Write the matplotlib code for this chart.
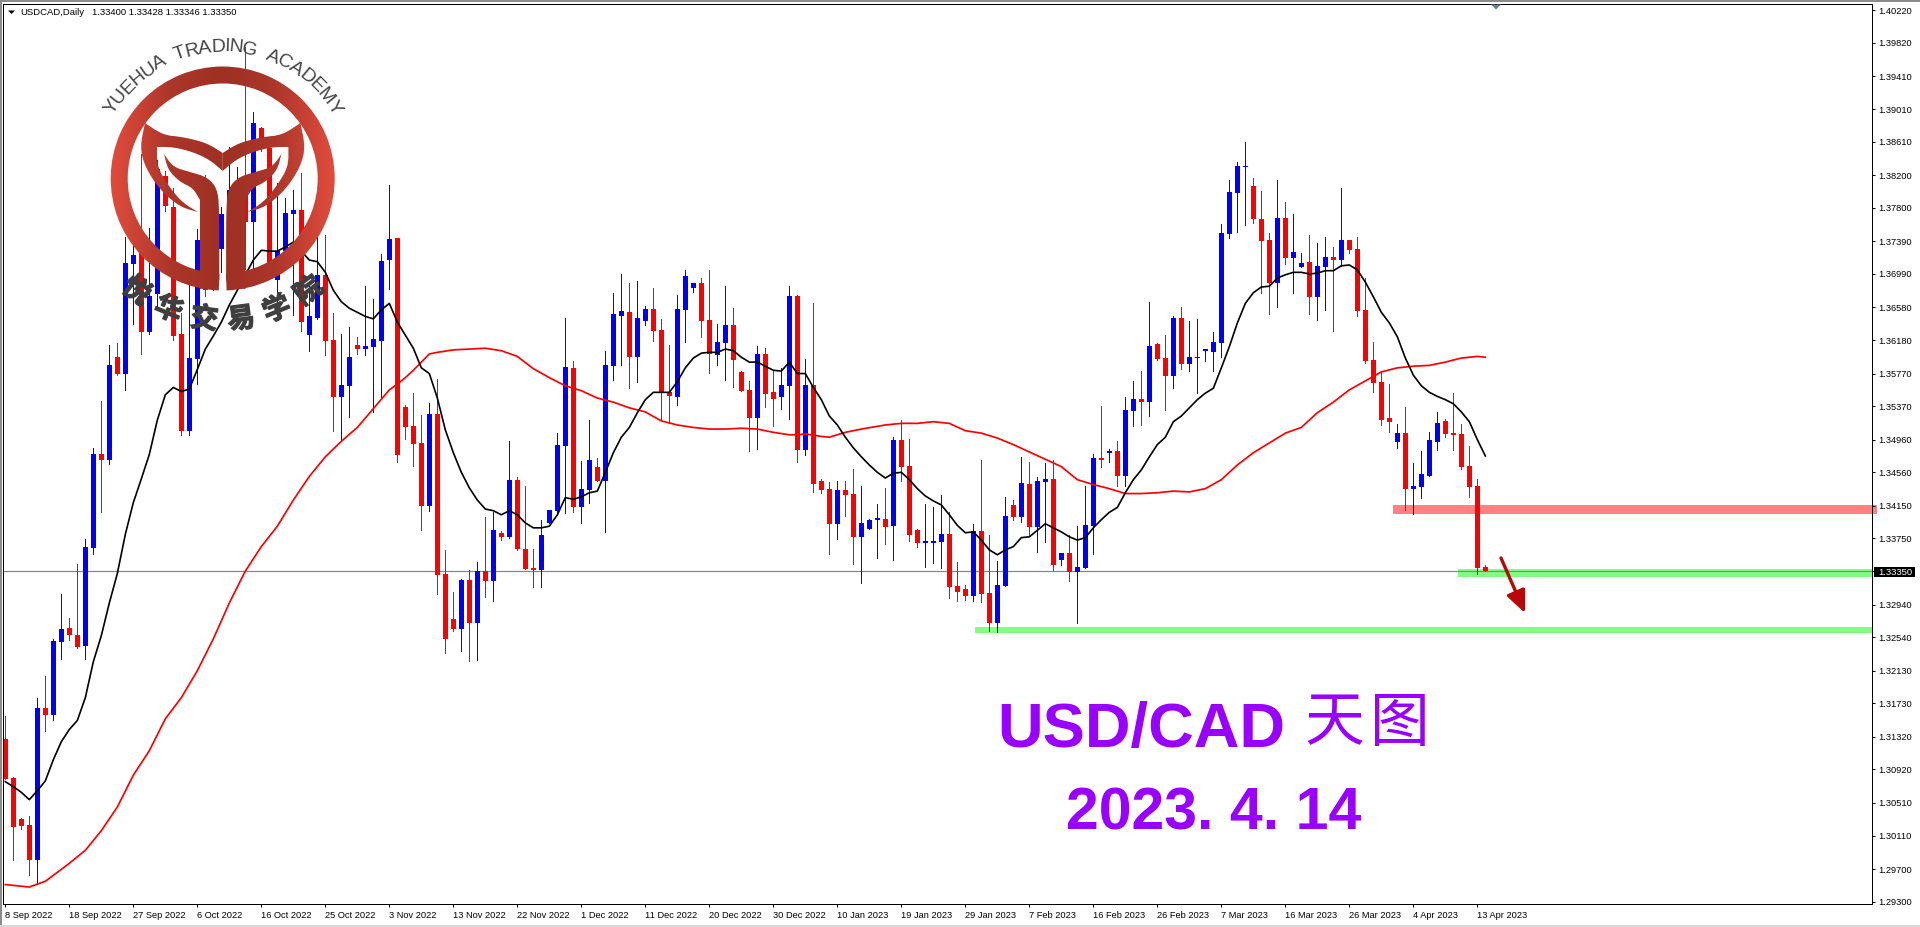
import numpy as np
import matplotlib
matplotlib.use('Agg')
import matplotlib.pyplot as plt
import matplotlib.patheffects as pe
from matplotlib.patches import Polygon, Rectangle, Wedge
from matplotlib.textpath import TextPath
from matplotlib.font_manager import FontProperties

open_ = [1.3129,1.3082,1.3031,1.3024,1.2981,1.3167,1.3159,1.3248,1.3265,1.3257,
1.3243,1.3363,1.3478,1.3471,1.3597,1.3577,1.3711,1.3740,1.3628,1.3675,
1.3819,1.3781,1.3625,1.3507,1.3595,1.3777,1.3692,1.3730,1.3753,1.3759,
1.3799,1.3763,1.3878,1.3853,1.3692,1.3727,1.3772,1.3777,1.3624,1.3645,
1.3698,1.3618,1.3548,1.3562,1.3612,1.3607,1.3610,1.3617,1.3716,1.3743,
1.3536,1.3513,1.3492,1.3415,1.3527,1.3331,1.3276,1.3264,1.3324,1.3272,
1.3335,1.3323,1.3382,1.3377,1.3447,1.3362,1.3339,1.3336,1.3394,1.3409,
1.3488,1.3584,1.3414,1.3434,1.3463,1.3445,1.3586,1.3647,1.3652,1.3597,
1.3641,1.3656,1.3630,1.3555,1.3548,1.3655,1.3682,1.3688,1.3643,1.3600,
1.3614,1.3636,1.3579,1.3557,1.3523,1.3601,1.3555,1.3548,1.3562,1.3672,
1.3483,1.3563,1.3445,1.3436,1.3393,1.3434,1.3429,1.3377,1.3387,1.3398,
1.3399,1.3390,1.3496,1.3464,1.3385,1.3370,1.3370,1.3371,1.3380,1.3317,
1.3313,1.3305,1.3384,1.3308,1.3272,1.3317,1.3416,1.3401,1.3442,1.3389,
1.3444,1.3448,1.3349,1.3357,1.3334,1.3339,1.3390,1.3474,1.3480,1.3482,
1.3452,1.3531,1.3546,1.3542,1.3613,1.3596,1.3574,1.3645,1.3589,1.3596,
1.3605,1.3604,1.3614,1.3748,1.3798,1.3830,1.3807,1.3766,1.3740,1.3688,
1.3768,1.3719,1.3707,1.3714,1.3671,1.3707,1.3720,1.3716,1.3740,1.3730,
1.3655,1.3594,1.3567,1.3523,1.3493,1.3504,1.3436,1.3438,1.3452,1.3493,
1.3519,1.3504,1.3503,1.3464,1.3439,1.33400]

high = [1.3158,1.3083,1.3032,1.3035,1.3180,1.3206,1.3252,1.3307,1.3277,1.3344,
1.3374,1.3486,1.3543,1.3612,1.3614,1.3744,1.3774,1.3846,1.3755,1.3839,
1.3825,1.3804,1.3651,1.3685,1.3754,1.3820,1.3790,1.3781,1.3854,1.3830,
1.3977,1.3897,1.3879,1.3859,1.3810,1.3792,1.3802,1.3823,1.3687,1.3744,
1.3747,1.3651,1.3625,1.3634,1.3622,1.3684,1.3668,1.3723,1.3808,1.3743,
1.3539,1.3553,1.3526,1.3541,1.3570,1.3361,1.3309,1.3325,1.3336,1.3346,
1.3401,1.3407,1.3384,1.3494,1.3450,1.3439,1.3362,1.3398,1.3410,1.3504,
1.3645,1.3592,1.3470,1.3520,1.3474,1.3605,1.3676,1.3699,1.3688,1.3690,
1.3660,1.3682,1.3644,1.3612,1.3673,1.3704,1.3688,1.3694,1.3704,1.3638,
1.3684,1.3657,1.3580,1.3568,1.3611,1.3608,1.3581,1.3584,1.3684,1.3673,
1.3595,1.3663,1.3448,1.3444,1.3445,1.3445,1.3460,1.3439,1.3399,1.3417,
1.3437,1.3499,1.3520,1.3497,1.3387,1.3417,1.3414,1.3428,1.3407,1.3346,
1.3318,1.3393,1.3471,1.3379,1.3347,1.3426,1.3422,1.3475,1.3469,1.3450,
1.3467,1.3471,1.3357,1.3379,1.3390,1.3439,1.3478,1.3537,1.3484,1.3494,
1.3548,1.3568,1.3580,1.3665,1.3614,1.3624,1.3647,1.3658,1.3641,1.3644,
1.3606,1.3628,1.3760,1.3814,1.3836,1.3861,1.3817,1.3801,1.3749,1.3814,
1.3787,1.3772,1.3725,1.3747,1.3737,1.3744,1.3732,1.3804,1.3740,1.3744,
1.3694,1.3616,1.3580,1.3564,1.3515,1.3536,1.3467,1.3482,1.3505,1.3530,
1.3521,1.3553,1.3515,1.3488,1.3448,1.33428]

low = [1.3080,1.2981,1.3019,1.2963,1.2952,1.3139,1.3153,1.3227,1.3251,1.3241,
1.3227,1.3356,1.3407,1.3466,1.3575,1.3557,1.3638,1.3601,1.3625,1.3656,
1.3776,1.3618,1.3502,1.3502,1.3564,1.3672,1.3679,1.3701,1.3740,1.3740,
1.3705,1.3701,1.3850,1.3710,1.3665,1.3716,1.3649,1.3629,1.3605,1.3644,
1.3600,1.3507,1.3494,1.3524,1.3601,1.3600,1.3530,1.3548,1.3681,1.3469,
1.3497,1.3464,1.3385,1.3409,1.3307,1.3235,1.3262,1.3237,1.3225,1.3226,
1.3303,1.3298,1.3373,1.3376,1.3361,1.3338,1.3315,1.3315,1.3394,1.3404,
1.3406,1.3407,1.3394,1.3418,1.3445,1.3383,1.3569,1.3587,1.3559,1.3567,
1.3636,1.3617,1.3520,1.3516,1.3539,1.3616,1.3677,1.3622,1.3578,1.3587,
1.3569,1.3561,1.3556,1.3482,1.3485,1.3536,1.3513,1.3534,1.3521,1.3469,
1.3477,1.3432,1.3431,1.3356,1.3374,1.3403,1.3344,1.3320,1.3387,1.3351,
1.3368,1.3349,1.3445,1.3372,1.3365,1.3340,1.3345,1.3339,1.3302,1.3298,
1.3300,1.3298,1.3297,1.3262,1.3261,1.3317,1.3398,1.3395,1.3378,1.3358,
1.3371,1.3336,1.3342,1.3323,1.3272,1.3339,1.3356,1.3463,1.3469,1.3439,
1.3439,1.3513,1.3514,1.3525,1.3594,1.3532,1.3559,1.3583,1.3580,1.3553,
1.3592,1.3580,1.3597,1.3743,1.3750,1.3759,1.3761,1.3676,1.3650,1.3658,
1.3711,1.3676,1.3707,1.3650,1.3643,1.3655,1.3629,1.3709,1.3725,1.3648,
1.3590,1.3555,1.3514,1.3505,1.3486,1.3410,1.3405,1.3425,1.3451,1.3483,
1.3499,1.3483,1.3460,1.3426,1.3332,1.33346]

close = [1.3080,1.3021,1.3023,1.2981,1.3167,1.3159,1.3249,1.3264,1.3257,1.3242,
1.3365,1.3478,1.3471,1.3587,1.3577,1.3712,1.3722,1.3628,1.3672,1.3828,
1.3782,1.3623,1.3507,1.3596,1.3740,1.3679,1.3740,1.3773,1.3802,1.3796,
1.3763,1.3884,1.3853,1.3712,1.3727,1.3774,1.3777,1.3640,1.3647,1.3698,
1.3617,1.3548,1.3563,1.3597,1.3607,1.3611,1.3619,1.3715,1.3742,1.3477,
1.3512,1.3491,1.3415,1.3527,1.3330,1.3252,1.3264,1.3324,1.3272,1.3335,
1.3323,1.3385,1.3377,1.3447,1.3362,1.3338,1.3336,1.3379,1.3410,1.3490,
1.3585,1.3414,1.3436,1.3471,1.3445,1.3587,1.3650,1.3654,1.3597,1.3645,
1.3656,1.3629,1.3555,1.3550,1.3656,1.3696,1.3688,1.3641,1.3601,1.3616,
1.3636,1.3594,1.3556,1.3523,1.3601,1.3552,1.3546,1.3563,1.3672,1.3483,
1.3563,1.3442,1.3434,1.3393,1.3434,1.3428,1.3377,1.3394,1.3398,1.3399,
1.3389,1.3496,1.3463,1.3379,1.3370,1.3371,1.3372,1.3380,1.3315,1.3309,
1.3305,1.3384,1.3307,1.3272,1.3318,1.3403,1.3401,1.3443,1.3389,1.3445,
1.3448,1.3342,1.3357,1.3334,1.3340,1.3391,1.3474,1.3471,1.3482,1.3451,
1.3532,1.3546,1.3542,1.3611,1.3595,1.3574,1.3645,1.3589,1.3597,1.3597,
1.3606,1.3616,1.3749,1.3799,1.3831,1.3831,1.3766,1.3739,1.3688,1.3768,
1.3719,1.3726,1.3712,1.3671,1.3709,1.3720,1.3716,1.3740,1.3728,1.3654,
1.3592,1.3566,1.3520,1.3518,1.3504,1.3436,1.3439,1.3454,1.3496,1.3516,
1.3503,1.3502,1.3463,1.3438,1.3339,1.33350]

# black moving average, one value per candle
ma_black = [1.3077,1.3071,1.3064,1.3055,1.3066,1.3078,1.3104,1.3126,1.3141,1.3152,
1.3180,1.3224,1.3256,1.3296,1.3332,1.3380,1.3419,1.3448,1.3478,1.3520,
1.3551,1.3560,1.3555,1.3558,1.3582,1.3607,1.3623,1.3640,1.3661,1.3679,
1.3698,1.3716,1.3728,1.3727,1.3727,1.3732,1.3738,1.3727,1.3716,1.3714,
1.3701,1.3679,1.3665,1.3657,1.3652,1.3647,1.3644,1.3655,1.3663,1.3640,
1.3624,1.3608,1.3584,1.3577,1.3547,1.3508,1.3480,1.3456,1.3437,1.3422,
1.3411,1.3409,1.3404,1.3409,1.3404,1.3394,1.3388,1.3388,1.3390,1.3404,
1.3425,1.3423,1.3426,1.3431,1.3433,1.3456,1.3480,1.3499,1.3511,1.3529,
1.3545,1.3554,1.3554,1.3554,1.3567,1.3584,1.3596,1.3602,1.3603,1.3603,
1.3607,1.3605,1.3597,1.3591,1.3591,1.3586,1.3581,1.3580,1.3591,1.3577,
1.3577,1.3560,1.3545,1.3525,1.3514,1.3499,1.3486,1.3475,1.3465,1.3456,
1.3449,1.3455,1.3456,1.3447,1.3436,1.3427,1.3421,1.3416,1.3404,1.3391,
1.3382,1.3383,1.3373,1.3361,1.3355,1.3361,1.3365,1.3376,1.3377,1.3385,
1.3393,1.3388,1.3383,1.3377,1.3373,1.3376,1.3388,1.3398,1.3407,1.3413,
1.3431,1.3447,1.3459,1.3475,1.3490,1.3499,1.3518,1.3525,1.3535,1.3545,
1.3553,1.3559,1.3584,1.3610,1.3639,1.3663,1.3676,1.3683,1.3684,1.3694,
1.3698,1.3701,1.3701,1.3699,1.3700,1.3703,1.3703,1.3709,1.3710,1.3704,
1.3689,1.3671,1.3652,1.3639,1.3622,1.3596,1.3575,1.3562,1.3554,1.3549,
1.3545,1.3540,1.3530,1.3518,1.3496,1.3476]

# red moving average, read at these candles
ma_red_idx = [0,3,5,8,10,12,14,16,18,20,22,24,26,28,30,32,34,36,38,40,42,44,46,48,49,
50,51,52,53,54,56,58,60,62,64,66,68,70,72,74,76,78,80,82,84,86,88,90,92,94,96,98,99,
100,102,103,105,107,110,112,114,116,118,120,122,124,126,128,130,132,134,136,138,140,142,144,146,148,149,
150,152,154,156,158,160,162,164,166,168,170,172,174,176,178,180,182,184,185]
ma_red = [1.2951,1.2948,1.2955,1.2977,1.2993,1.3017,1.3046,1.3085,1.3115,1.3154,1.3180,1.3213,1.3252,1.3296,1.3335,1.3365,1.3390,1.3422,1.3451,1.3475,1.3494,1.3511,1.3534,1.3557,1.3564,
1.3572,1.3581,1.3591,1.3601,1.3603,1.3606,1.3607,1.3608,1.3605,1.3598,1.3583,1.3572,1.3562,1.3556,1.3547,1.3542,1.3535,1.3530,1.3519,1.3514,1.3511,1.3509,1.3509,1.3510,1.3509,1.3505,1.3502,1.3502,
1.3503,1.3500,1.3499,1.3505,1.3509,1.3514,1.3516,1.3516,1.3518,1.3516,1.3507,1.3504,1.3498,1.3490,1.3481,1.3472,1.3463,1.3447,1.3441,1.3436,1.3430,1.3430,1.3431,1.3433,1.3432,1.3434,
1.3436,1.3447,1.3465,1.3480,1.3492,1.3504,1.3511,1.3529,1.3542,1.3557,1.3568,1.3579,1.3584,1.3586,1.3587,1.3591,1.3596,1.3598,1.3597]

price_ticks = [1.40220,1.39820,1.39410,1.39010,1.38610,1.38200,1.37800,1.37390,1.36990,1.36580,
1.36180,1.35770,1.35370,1.34960,1.34560,1.34150,1.33750,1.32940,1.32540,1.32130,
1.31730,1.31320,1.30920,1.30510,1.30110,1.29700,1.29300]
date_labels = ['8 Sep 2022','18 Sep 2022','27 Sep 2022','6 Oct 2022','16 Oct 2022','25 Oct 2022',
'3 Nov 2022','13 Nov 2022','22 Nov 2022','1 Dec 2022','11 Dec 2022','20 Dec 2022','30 Dec 2022',
'10 Jan 2023','19 Jan 2023','29 Jan 2023','7 Feb 2023','16 Feb 2023','26 Feb 2023','7 Mar 2023',
'16 Mar 2023','26 Mar 2023','4 Apr 2023','13 Apr 2023']
last_price = 1.33350

plt.rcParams['font.family'] = ['Liberation Sans', 'Noto Sans CJK SC', 'DejaVu Sans']
PX = 0.72  # one pixel in points at dpi 100

fig = plt.figure(figsize=(19.2, 9.27), dpi=100, facecolor='white')
ax = fig.add_axes([3/1920, 1-904/927, 1869/1920, 900/927])
ax.set_xlim(-0.291, 233.33)
ax.set_ylim(1.29272, 1.40297)

# zones
ax.fill_between([173.5, 234], 1.3405, 1.3416, color='#FF8080', lw=0, zorder=1, clip_on=False)
ax.fill_between([181.6, 233.33], 1.3328, 1.3338, color='#80FF80', lw=0, zorder=1)
ax.fill_between([121.2, 233.33], 1.3259, 1.3267, color='#80FF80', lw=0, zorder=1)
ax.axhline(last_price, color='#778899', lw=PX*1.2, zorder=1.5)

# candles
o = np.array(open_)
h = np.array(high)
l = np.array(low)
c = np.array(close)
x = np.arange(len(o))
cols = np.where(c >= o, '#0000FF', '#FF0000')
ax.vlines(x, l, h, colors=cols, lw=PX, zorder=2, antialiased=False)
bottoms = np.minimum(o, c)
heights = np.maximum(np.abs(c-o), 0.00016)
ax.bar(x, heights, bottom=bottoms, width=0.625, color=cols, lw=0, zorder=2.1, antialiased=False)

ax.plot(np.array(ma_red_idx), ma_red, color='#FF0000', lw=1.25, zorder=3)
ax.plot(x, ma_black, color='black', lw=1.2, zorder=3)

# axes
ax.yaxis.tick_right()
ax.set_yticks(price_ticks + [last_price])
ax.set_yticklabels(['%.5f' % p for p in price_ticks] + [''], fontsize=6.7, color='black')
ax.set_xticks(np.arange(len(date_labels))*8)
ax.set_xticklabels(date_labels, fontsize=6.7, ha='left', color='black')
ax.tick_params(axis='y', length=2.2, width=PX, pad=2)
ax.tick_params(axis='x', length=2.2, width=PX, pad=2.5)
for s in ax.spines.values():
    s.set_linewidth(PX)
    s.set_color('black')

# overlay in pixel coordinates for the annotations
ov = fig.add_axes([0, 0, 1, 1], facecolor='none')
ov.set_xlim(0, 1920)
ov.set_ylim(927, 0)
ov.axis('off')

# window frame
ov.add_patch(Rectangle((0, 0), 1920, 1.6, color='#8c8c8c', lw=0))
ov.add_patch(Rectangle((0, 0), 2.4, 927, color='#8c8c8c', lw=0))
ov.add_patch(Rectangle((0, 924.5), 1920, 2.5, color='#d8d8d8', lw=0))

# header
ov.add_patch(Polygon([(8, 10.5), (15, 10.5), (11.5, 14)], color='black', lw=0))
ov.text(20, 12, 'USDCAD,Daily', fontsize=6.8, va='center', ha='left', color='black')
ov.text(92, 12, '1.33400 1.33428 1.33346 1.33350', fontsize=6.8, va='center', ha='left', color='black')
ov.add_patch(Polygon([(1491, 4.5), (1501, 4.5), (1496, 9.5)], color='#6a7f95', lw=0))

# last price box
ov.add_patch(Rectangle((1874, 567), 41, 10, color='black', lw=0))
ov.text(1878, 572.3, '%.5f' % last_price, fontsize=6.8, color='white', va='center', ha='left')

# arrow
ov.annotate('', xy=(1525, 613), xytext=(1501, 558),
            arrowprops=dict(arrowstyle='-|>,head_length=0.95,head_width=0.42', color='#B80808', lw=2.4,
                            shrinkA=0, shrinkB=0, mutation_scale=14))

# big labels
ov.text(997, 747, 'USD/CAD', fontsize=45.5, fontweight='bold', color='#9900FF', ha='left', va='baseline',
        family='Liberation Sans')
ov.text(1334, 724, '天', fontsize=43, color='#9900FF', ha='center', va='center', family='Noto Sans CJK SC')
ov.text(1400, 724, '图', fontsize=43, color='#9900FF', ha='center', va='center', family='Noto Sans CJK SC')
ov.text(1214, 829, '2023. 4. 14', fontsize=42.5, fontweight='bold', color='#9900FF', ha='center', va='baseline',
        family='Liberation Sans')

# logo
CX, CY = 222.7, 178.5

def smooth(pts, keep, n=2):
    # corner cutting, points listed in keep stay sharp
    pts = [np.array(p, float) for p in pts]
    flags = [i in keep for i in range(len(pts))]
    for _ in range(n):
        new_pts, new_flags = [], []
        m = len(pts)
        for i in range(m):
            a, b = pts[i], pts[(i+1) % m]
            if flags[i]:
                new_pts.append(a)
                new_flags.append(True)
            else:
                new_pts.append(0.75*a + 0.25*b)
                new_flags.append(False)
            if not flags[(i+1) % m]:
                new_pts.append(0.25*a + 0.75*b)
                new_flags.append(False)
        pts, flags = new_pts, new_flags
    return [tuple(p) for p in pts]

def fill_gradient(patch):
    xs = np.linspace(105, 340, 240)
    r = np.interp(xs, [105, 170, 222, 275, 340], [230, 172, 158, 172, 230])
    g = np.interp(xs, [105, 170, 222, 275, 340], [78, 54, 48, 54, 78])
    b = np.interp(xs, [105, 170, 222, 275, 340], [62, 42, 36, 42, 62])
    img = np.dstack([r, g, b])/255.0
    patch.set(fc='none', ec='none')
    ov.add_patch(patch)
    im = ov.imshow(img, extent=(105, 340, 300, 60), aspect='auto', zorder=5)
    im.set_clip_path(patch)

# y grows downward here, so angle 90 is the bottom of the ring
fill_gradient(Wedge((CX, CY), 112, 92, 448, width=17))
band = [(145,123),(163,135),(183,137),(207,143),(222.7,153),(222.7,171),(210,160),(193,152),(173,147),(157,147),
        (157,167),(170,188),(183,203),(198,212),(180,207),(160,190),(145,167),(140,147)]
leaf = [(164,154),(173,167),(190,172),(207,177),(217,188),(219.3,207),(219.3,280),(215,287),(200,289),(200,200),
        (193,188),(180,182),(168,170)]
band_s = smooth(band, {0, 4, 5, 9, 13})
leaf_s = smooth(leaf, {0, 6, 8, 9})
for shape in [band_s, leaf_s]:
    fill_gradient(Polygon(shape))
    fill_gradient(Polygon([(2*CX-a, b) for a, b in shape]))
ov.set_xlim(0, 1920)
ov.set_ylim(927, 0)

# curved logo text
fp = FontProperties(family='Liberation Sans')
top_text = 'YUEHUA TRADING ACADEMY'
tsize = 14
R_top = 127.0
def advance(s):
    return TextPath((0, 0), s.replace(' ', 'n'), size=tsize*100/72, prop=fp).get_extents().width
total = advance(top_text)
for k, ch in enumerate(top_text):
    pos = advance(top_text[:k+1]) - advance(ch)/2 - total/2
    ang = pos/R_top*0.93
    px = CX + R_top*np.sin(ang)
    py = CY - R_top*np.cos(ang)
    ov.text(px, py, ch, fontsize=tsize, color='#444444', ha='center', va='baseline', zorder=6,
            rotation=-np.degrees(ang), rotation_mode='anchor', family='Liberation Sans')

bottom_text = '悦华交易学院'
R_bot = 142.0
for k, ch in enumerate(bottom_text):
    ang = np.radians((k-2.5)*15.0)
    px = CX + R_bot*np.sin(ang)
    py = CY + R_bot*np.cos(ang)
    ov.text(px, py, ch, fontsize=20, color='#3f3f3f', fontweight='bold', ha='center', va='center', zorder=6,
            rotation=np.degrees(ang), rotation_mode='anchor', family='Noto Sans CJK SC',
            path_effects=[pe.withStroke(linewidth=0.9, foreground='#3f3f3f')])

fig.savefig('out.png', dpi=100)
